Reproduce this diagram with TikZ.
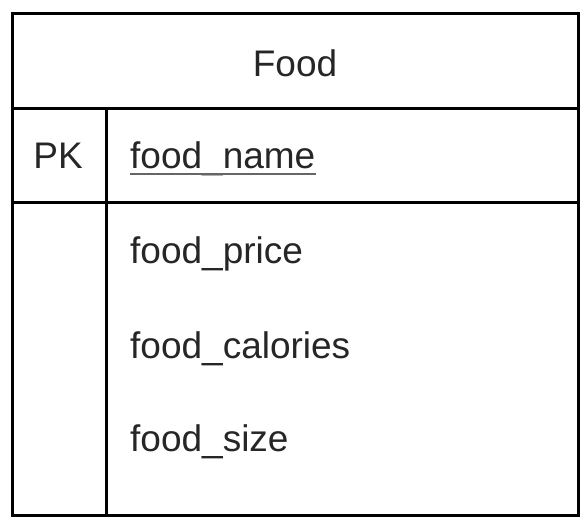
\documentclass[tikz,border=0pt]{standalone}
\usepackage{fontspec}
\setmainfont{Liberation Sans}
\usetikzlibrary{positioning, calc}

\begin{document}
\begin{tikzpicture}[
        x=1pt, y=-1pt,
        every node/.style={font=\fontsize{37}{42}\selectfont, text=black!85, inner sep=0pt},
        frame/.style={draw, line width=3pt},
        field/.style={anchor=base west},
        key/.style={anchor=base}
    ]
        \useasboundingbox (0,0) rectangle (588,527);

        % Table outline
        \coordinate (tl) at (12,14);
        \coordinate (br) at (578,515);
        \draw[frame] (tl) rectangle (br);
        \draw[frame] (12,108) -- (578,108);
        \draw[frame] (12,202) -- (578,202);
        \draw[frame] (106,108) -- (106,515);

        % Header
        \node[key] (title) at (295,76) {Food};

        % Primary key
        \node[key] (pk) at (58,168) {PK};
        \node[field] (name) at (130,168) {food\_name};
        \draw[line width=1.5pt, black!60] ($(name.base west)+(0,6)$) -- ($(name.base east)+(0,6)$);

        % Attributes
        \node[field] (price) at (130,263) {food\_price};
        \node[field] (calories) at (130,358) {food\_calories};
        \node[field] (size) at (130,451) {food\_size};

    \end{tikzpicture}
\end{document}
